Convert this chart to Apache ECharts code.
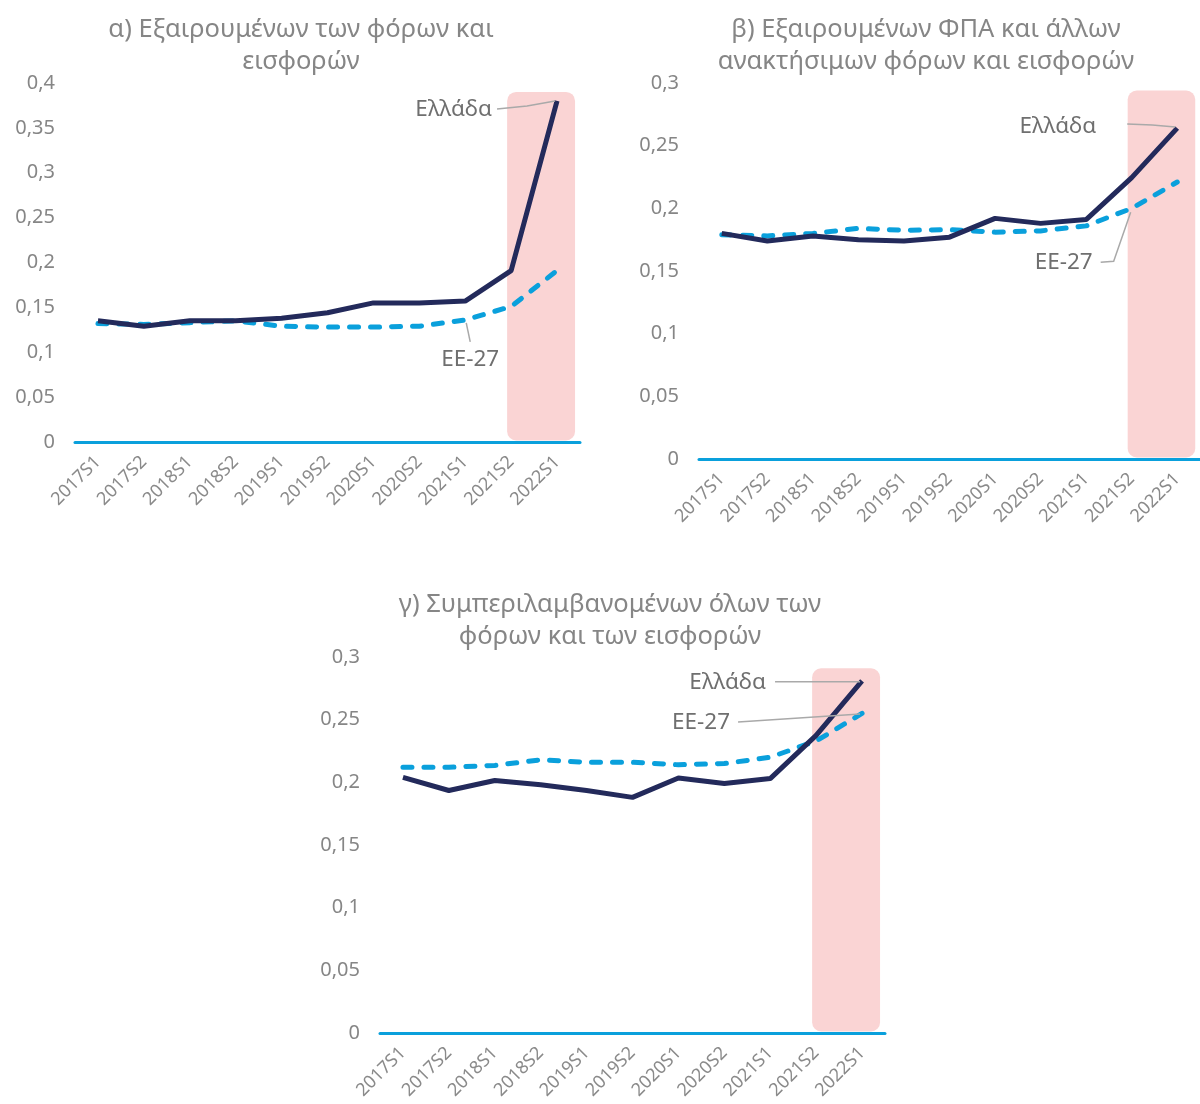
<!DOCTYPE html>
<html><head><meta charset="utf-8">
<script src="https://cdn.jsdelivr.net/npm/echarts@6/dist/echarts.min.js"></script>
<style>html,body{margin:0;padding:0;background:#fff}#c{width:1200px;height:1104px}</style>
</head><body><div id="c"></div>
<script>
const categories = ['2017S1','2017S2','2018S1','2018S2','2019S1','2019S2','2020S1','2020S2','2021S1','2021S2','2022S1'];
const greeceA = [0.135,0.129,0.135,0.135,0.138,0.144,0.155,0.155,0.157,0.191,0.380];
const eu27A   = [0.132,0.131,0.133,0.135,0.129,0.128,0.128,0.129,0.136,0.151,0.191];
const greeceB = [0.180,0.174,0.178,0.175,0.174,0.177,0.192,0.188,0.191,0.2245,0.264];
const eu27B   = [0.179,0.178,0.180,0.184,0.1825,0.183,0.181,0.182,0.186,0.200,0.221];
const greeceC = [0.204,0.1935,0.2015,0.198,0.1935,0.188,0.2035,0.199,0.203,0.2375,0.281];
const eu27C   = [0.212,0.212,0.2135,0.218,0.216,0.216,0.214,0.215,0.220,0.233,0.255];
const titles = [
  'α) Εξαιρουμένων των φόρων και\nεισφορών',
  'β) Εξαιρουμένων ΦΠΑ και άλλων\nανακτήσιμων φόρων και εισφορών',
  'γ) Συμπεριλαμβανομένων όλων των\nφόρων και των εισφορών'
];
const seriesNames = ['Ελλάδα','ΕΕ-27'];
const yMax = [0.4, 0.3, 0.3];
const yInterval = 0.05;
const highlightFrom = '2021S2';
const highlightTop = [0.39, 0.294, 0.291];

const FONT = '"Noto Sans", sans-serif';
const greeceData = [greeceA, greeceB, greeceC];
const euData = [eu27A, eu27B, eu27C];
const grids = [
  {left: 75, top: 83, width: 505, height: 359},
  {left: 699, top: 83, width: 506, height: 376},
  {left: 380, top: 657, width: 505, height: 376}
];
const titlePos = [{x: 296, y: 9}, {x: 921, y: 9}, {x: 605, y: 584}];

const chart = echarts.init(document.getElementById('c'), null, {renderer: 'canvas'});
const option = {
  animation: false,
  backgroundColor: '#ffffff',
  title: titles.map((t, i) => ({
    text: t, left: titlePos[i].x, top: titlePos[i].y, textAlign: 'center',
    textStyle: {fontFamily: FONT, fontSize: 25.5, fontWeight: 'normal', color: '#868686', lineHeight: 32}
  })),
  grid: grids,
  xAxis: grids.map((g, i) => ({
    type: 'category', gridIndex: i, data: categories, boundaryGap: true,
    axisLine: {lineStyle: {color: '#0aa0dc', width: 3}},
    axisTick: {show: false},
    axisLabel: {rotate: 45, fontFamily: FONT, fontSize: 18, color: '#8a8a8a', margin: 17, interval: 0}
  })),
  yAxis: grids.map((g, i) => ({
    type: 'value', gridIndex: i, min: 0, max: yMax[i], interval: yInterval,
    axisLine: {show: false}, axisTick: {show: false}, splitLine: {show: false},
    axisLabel: {fontFamily: FONT, fontSize: 20, color: '#868686', margin: 20,
      formatter: v => String(+v.toFixed(2)).replace('.', ',')}
  })),
  series: []
};
for (let i = 0; i < 3; i++) {
  option.series.push({
    name: seriesNames[1], type: 'line', xAxisIndex: i, yAxisIndex: i, data: euData[i],
    symbol: 'none', z: 3,
    lineStyle: {color: '#0aa0dc', width: 5, type: [9, 12], cap: 'round'}
  });
  option.series.push({
    name: seriesNames[0], type: 'line', xAxisIndex: i, yAxisIndex: i, data: greeceData[i],
    symbol: 'none', z: 4,
    lineStyle: {color: '#232a5b', width: 5}
  });
}
chart.setOption(option);

function px(i, cat, val) { return chart.convertToPixel({gridIndex: i}, [cat, val]); }
const last = categories[categories.length - 1];
const graphics = [];
for (let i = 0; i < 3; i++) {
  const a = px(i, highlightFrom, highlightTop[i]);
  const b = px(i, last, 0);
  const x0 = a[0] - 4, x1 = b[0] + 18;
  graphics.push({type: 'rect', z: -1, shape: {x: x0, y: a[1], width: x1 - x0, height: b[1] - a[1] - 1.5, r: 9},
    style: {fill: '#fad4d4'}});
}
const labelStyle = {fontFamily: FONT, fontSize: 22.5, fill: '#6f6f6f'};
const leader = {stroke: '#a9a9a9', lineWidth: 1.5, fill: null};
const notes = [
  {g: 0, name: seriesNames[0], data: greeceA, k: 10, tx: -65, ty: 9, align: 'right', pts: [[-60, 8], [-30, 5], [-2, 0]]},
  {g: 0, name: seriesNames[1], data: eu27A, k: 8, tx: 5, ty: 40, align: 'center', pts: [[5, 22], [1, 3]]},
  {g: 1, name: seriesNames[0], data: greeceB, k: 10, tx: -81, ty: -2, align: 'right', pts: [[-50, -4], [-25, -3], [-2, -1]]},
  {g: 1, name: seriesNames[1], data: eu27B, k: 9, tx: -39, ty: 54, align: 'right', pts: [[-31, 54], [-18, 53], [-1, 4]]},
  {g: 2, name: seriesNames[0], data: greeceC, k: 10, tx: -96, ty: 2, align: 'right', pts: [[-87, 1], [-2, 1]]},
  {g: 2, name: seriesNames[1], data: eu27C, k: 10, tx: -132, ty: 9.5, align: 'right', pts: [[-124, 8.5], [-2, 0.5]]}
];
notes.forEach(n => {
  const p = px(n.g, categories[n.k], n.data[n.k]);
  graphics.push({type: 'text', z: 10, x: p[0] + n.tx, y: p[1] + n.ty,
    style: Object.assign({text: n.name, align: n.align, verticalAlign: 'middle'}, labelStyle)});
  graphics.push({type: 'polyline', z: 10, shape: {points: n.pts.map(q => [p[0] + q[0], p[1] + q[1]])}, style: leader});
});
chart.setOption({graphic: graphics});
</script>
</body></html>
